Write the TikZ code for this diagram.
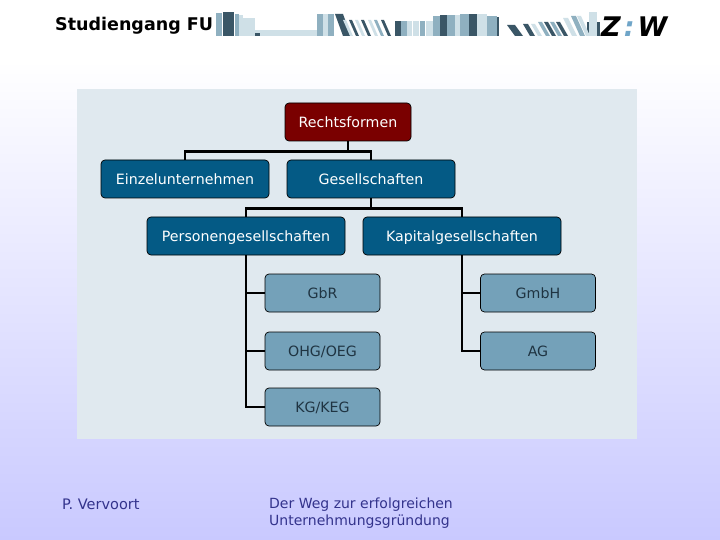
\documentclass[tikz,border=0pt]{standalone}
\usepackage{fontspec}
\setmainfont{DejaVu Sans}
\definecolor{panelfill}{HTML}{E0E9EF}
\definecolor{rootfill}{HTML}{7A0000}
\definecolor{midfill}{HTML}{045A85}
\definecolor{leaffill}{HTML}{74A1B9}
\definecolor{leaftext}{HTML}{1F3442}
\definecolor{footblue}{HTML}{33338C}
\definecolor{middleblue}{HTML}{E8E8FF}
\definecolor{bottomblue}{HTML}{C9C9FF}
\definecolor{bookdark}{HTML}{3A5666}
\definecolor{bookmid}{HTML}{8FB0C0}
\definecolor{booklight}{HTML}{CFE0E7}
\definecolor{logoblue}{HTML}{6FA5C8}

\tikzstyle{box}=[draw=black,line width=0.7pt,rounded corners=4pt,inner sep=0pt,
    minimum height=38pt,text height=14pt,text depth=3pt,font=\fontsize{14.2}{17}\selectfont]
\tikzstyle{rootbox}=[box,fill=rootfill,text=white,minimum width=126pt]
\tikzstyle{firstbox}=[box,fill=midfill,text=white,minimum width=168pt]
\tikzstyle{secondbox}=[box,fill=midfill,text=white,minimum width=198pt]
\tikzstyle{leafbox}=[box,fill=leaffill,text=leaftext,minimum width=115pt]
\tikzstyle{link}=[draw=black,line width=2.5pt]
\tikzstyle{foot}=[anchor=west,text=footblue,inner sep=0pt,font=\fontsize{14}{17.5}\selectfont]

\begin{document}
\begin{tikzpicture}[x=1pt,y=-1pt]

    \useasboundingbox (0,0) rectangle (720,540);

    % background and panel
    \fill[white] (0,0) rectangle (720,60);
    \shade[top color=white,middle color=middleblue,bottom color=bottomblue] (0,60) rectangle (720,540);
    \fill[panelfill] (77,89) rectangle (637,439);

    % bookshelf strip, upright books
    \fill[booklight] (255,30) rectangle (318,36);
    \fill[bookdark] (253,33) rectangle (260,36);
    \foreach \bx/\bw/\bh/\bc in {
        216/6/23/bookmid, 223/11/24/bookdark, 235/4/22/bookmid, 239/4/21/booklight,
        243/12/18/booklight, 317/6/22/bookmid, 323/5/22/booklight, 328/6/22/bookmid,
        395/6/15/bookdark, 401/6/15/bookmid, 407/5/15/booklight, 413/6/15/booklight,
        420/5/15/bookmid, 426/7/15/booklight, 433/7/20/bookmid, 440/7/21/bookdark,
        447/8/21/bookmid, 455/5/21/booklight, 460/9/22/bookmid, 469/8/22/bookdark,
        477/10/22/booklight, 487/10/20/bookmid, 497/2/19/bookdark, 587/13/14/bookdark,
        589/8/24/booklight}
        \fill[\bc] (\bx,36) rectangle ++(\bw,-\bh);

    % bookshelf strip, leaning books
    \foreach \bx/\bw/\bs/\bh/\bc in {
        343/8/8/22/bookdark, 350/3/7/16/booklight, 356/3/7/16/bookdark, 362/3/7/16/booklight,
        368/3/7/16/bookdark, 375/3/7/16/booklight, 381/3/7/16/bookmid, 388/3/7/16/bookdark,
        515/8/8/11/bookdark, 530/5/7/12/bookdark, 538/4/7/12/booklight, 546/4/8/14/bookmid,
        552/4/8/14/bookdark, 558/4/8/14/bookmid, 564/4/8/14/bookdark, 572/5/9/18/booklight,
        580/5/9/20/bookmid, 586/4/9/20/booklight}
        \fill[\bc] (\bx,36) -- ++(\bw,0) -- ++(-\bs,-\bh) -- ++(-\bw,0) -- cycle;

    % header
    \node[anchor=west,inner sep=0pt,font=\fontsize{17.5}{20}\selectfont\bfseries] (studiengang)
        at (55,26) {Studiengang FU};
    \node[anchor=west,inner sep=0pt,font=\fontsize{27}{27}\selectfont\bfseries\itshape] (zwlogo)
        at (601,27) {Z\hspace{3pt}\textcolor{logoblue}{:}\hspace{3pt}W};

    % nodes
    \node[rootbox] (rechtsformen) at (348,122) {Rechtsformen};

    \node[firstbox] (einzelunternehmen) at (185,179) {Einzelunternehmen};
    \node[firstbox] (gesellschaften)    at (371,179) {Gesellschaften};

    \node[secondbox] (personen) at (246,236) {Personengesellschaften};
    \node[secondbox] (kapital)  at (462,236) {Kapitalgesellschaften};

    \node[leafbox] (gbr) at (322.5,293) {GbR};
    \node[leafbox] (ohg) at (322.5,351) {OHG/OEG};
    \node[leafbox] (kg)  at (322.5,407) {KG/KEG};

    \node[leafbox] (gmbh) at (538,293) {GmbH};
    \node[leafbox] (ag)   at (538,351) {AG};

    % connectors
    \draw[link] (rechtsformen.south) -- ++(0,10) -| (einzelunternehmen.north);
    \draw[link] (rechtsformen.south) -- ++(0,10) -| (gesellschaften.north);
    \draw[link] (gesellschaften.south) -- ++(0,10) -| (personen.north);
    \draw[link] (gesellschaften.south) -- ++(0,10) -| (kapital.north);
    \draw[link] (personen.south) |- (gbr.west);
    \draw[link] (personen.south) |- (ohg.west);
    \draw[link] (personen.south) |- (kg.west);
    \draw[link] (kapital.south) |- (gmbh.west);
    \draw[link] (kapital.south) |- (ag.west);

    % footer
    \node[foot,font=\fontsize{14.5}{17.5}\selectfont] (author) at (62,504) {P. Vervoort};
    \node[foot,align=left] (title) at (269,513) {Der Weg zur erfolgreichen\\Unternehmungsgründung};

\end{tikzpicture}
\end{document}
